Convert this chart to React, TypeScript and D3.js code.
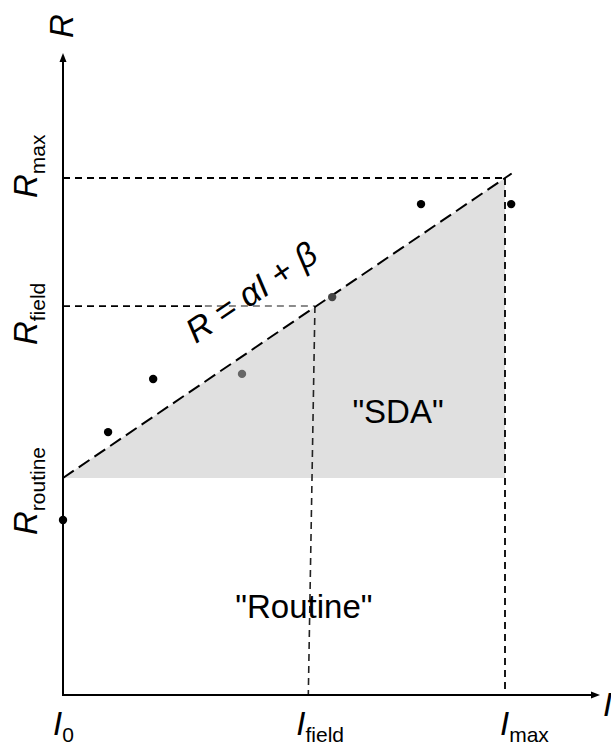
import React, { useEffect, useRef } from "react";
import * as d3 from "d3";

// relative units: I0 = 0, Imax = 1 on x; Rroutine = 0, Rmax = 1 on y
const iLabels = ["0", "field", "max"];
const iValues = [0, 0.57, 1];
const iFieldFoot = 0.555; // the I_field guide leans a little
const rLabels = ["routine", "field", "max"];
const rValues = [0, 0.573, 1];

// regression R = alpha*I + beta
const alpha = 1;
const beta = 0;
const fitEnd = 1.015;

// observations
const pointI = [0, 0.102, 0.204, 0.405, 0.609, 0.81, 1.014];
const pointR = [-0.14, 0.153, 0.33, 0.347, 0.603, 0.913, 0.913];
const pointKind = ["obs", "obs", "obs", "faded", "field", "obs", "obs"];

const W = 611;
const H = 747;
const font = "'Liberation Sans', Arial, sans-serif";

export default function App() {
  const ref = useRef<SVGSVGElement>(null);

  useEffect(() => {
    const svg = d3.select(ref.current);
    svg.selectAll("*").remove();

    const x = d3.scaleLinear().domain([0, 1]).range([63, 505]);
    const y = d3.scaleLinear().domain([0, 1]).range([478, 178]);
    const xEnd = 1.215;
    const yBottom = -0.723;
    const yTop = 1.417;

    const kindColor: Record<string, string> = { obs: "#000", faded: "#666", field: "#444" };

    // shaded "SDA" triangle
    svg.append("path")
      .attr("d", d3.line()([
        [x(0), y(beta)],
        [x(1), y(alpha * 1 + beta)],
        [x(1), y(0)],
      ]) + "Z")
      .attr("fill", "#e0e0e0");

    const guide = (x1: number, y1: number, x2: number, y2: number, color = "#000", w = 1.8) =>
      svg.append("line")
        .attr("x1", x1).attr("y1", y1).attr("x2", x2).attr("y2", y2)
        .attr("stroke", color).attr("stroke-width", w)
        .attr("stroke-dasharray", "7,5");

    // horizontal guides
    guide(x(0), y(rValues[2]), x(1), y(rValues[2]));
    guide(x(0), y(rValues[1]), x(0.321), y(rValues[1]));
    guide(x(0.321), y(rValues[1]), x(iValues[1]), y(rValues[1]), "#666", 1.5);
    // vertical guides
    guide(x(iValues[2]), y(rValues[2]), x(iValues[2]), y(yBottom));
    guide(x(iValues[1]), y(rValues[1]), x(iFieldFoot), y(yBottom), "#222", 1.6);

    // regression line
    svg.append("line")
      .attr("x1", x(0)).attr("y1", y(beta))
      .attr("x2", x(fitEnd)).attr("y2", y(alpha * fitEnd + beta))
      .attr("stroke", "#000").attr("stroke-width", 2)
      .attr("stroke-dasharray", "13,6");

    // axes with arrows
    const axis = svg.append("g").attr("stroke", "#000").attr("stroke-width", 2);
    axis.append("line").attr("x1", x(0)).attr("y1", y(yBottom) + 1).attr("x2", x(0)).attr("y2", y(yTop) + 6);
    axis.append("line").attr("x1", x(0) - 1).attr("y1", y(yBottom)).attr("x2", x(xEnd) - 6).attr("y2", y(yBottom));
    svg.append("path")
      .attr("d", `M${x(0)},${y(yTop)} l-3.5,9 l7,0 Z`).attr("fill", "#000");
    svg.append("path")
      .attr("d", `M${x(xEnd)},${y(yBottom)} l-9,-3.5 l0,7 Z`).attr("fill", "#000");

    // points
    svg.selectAll("circle.pt")
      .data(pointI.map((v, i) => ({ i: v, r: pointR[i], k: pointKind[i] })))
      .join("circle")
      .attr("class", "pt")
      .attr("cx", (d) => x(d.i))
      .attr("cy", (d) => y(d.r))
      .attr("r", 4.2)
      .attr("fill", (d) => kindColor[d.k]);

    const txt = svg.append("g").attr("font-family", font).attr("fill", "#000");

    // R labels on the y axis
    const rOffsets = [57, 39, 20];
    rLabels.forEach((lab, i) => {
      const t = txt.append("text")
        .attr("transform", `translate(37,${y(rValues[i]) + rOffsets[i]}) rotate(-90)`)
        .attr("font-size", 33);
      t.append("tspan").attr("font-style", "italic").text("R");
      t.append("tspan").attr("font-size", 21).attr("dy", 8).text(lab);
    });

    // I labels under the x axis
    const iOffsets = [-10, -12, -5];
    const iPos = [iValues[0], iFieldFoot, iValues[2]];
    iLabels.forEach((lab, i) => {
      const t = txt.append("text")
        .attr("x", x(iPos[i]) + iOffsets[i])
        .attr("y", 735)
        .attr("font-size", 33);
      t.append("tspan").attr("font-style", "italic").text("I");
      t.append("tspan").attr("font-size", 21).attr("dy", 7).text(lab);
    });

    // axis titles
    txt.append("text")
      .attr("transform", `translate(73,38) rotate(-90)`)
      .attr("font-size", 33).attr("font-style", "italic").text("R");
    txt.append("text")
      .attr("x", 603).attr("y", 716)
      .attr("font-size", 33).attr("font-style", "italic").text("I");

    // equation along the fit
    const angle = (Math.atan2(y(0) - y(1), x(1) - x(0)) * 180) / Math.PI;
    const eq = txt.append("text")
      .attr("transform", `translate(${x(0.441)},${y(0.587)}) rotate(${-angle})`)
      .attr("text-anchor", "middle")
      .attr("font-size", 34);
    eq.append("tspan").attr("font-style", "italic").text("R");
    eq.append("tspan").text(" = ");
    eq.append("tspan").attr("font-style", "italic").text("αI");
    eq.append("tspan").text(" + ");
    eq.append("tspan").attr("font-style", "italic").text("β");

    // region names
    txt.append("text")
      .attr("x", x(0.758)).attr("y", y(0.183))
      .attr("text-anchor", "middle").attr("font-size", 33)
      .text('"SDA"');
    txt.append("text")
      .attr("x", x(0.545)).attr("y", y(-0.467))
      .attr("text-anchor", "middle").attr("font-size", 33)
      .text('"Routine"');
  }, []);

  return (
    <svg
      ref={ref}
      width={W}
      height={H}
      style={{ position: "absolute", left: 0, top: 0, background: "#fff" }}
    />
  );
}
